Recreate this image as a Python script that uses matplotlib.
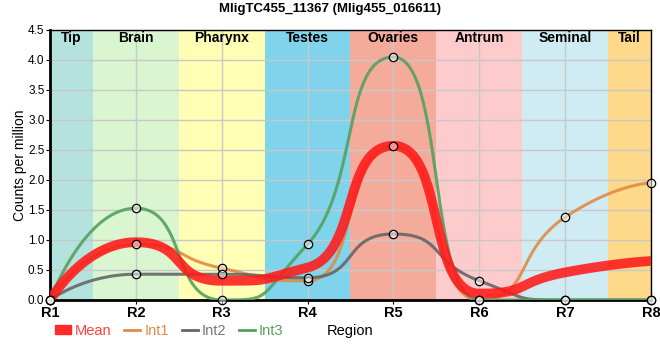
import numpy as np
import matplotlib
matplotlib.use('Agg')
import matplotlib.pyplot as plt
from matplotlib.patches import Patch
from matplotlib.lines import Line2D

plt.rcParams['font.family'] = ['Liberation Sans', 'DejaVu Sans']

# data
regions = ['R1', 'R2', 'R3', 'R4', 'R5', 'R6', 'R7', 'R8']
tissues = ['Tip', 'Brain', 'Pharynx', 'Testes', 'Ovaries', 'Antrum', 'Seminal', 'Tail']
tissue_colors = ['#b4e3dd', '#d9f6d0', '#fefeb4', '#7fd3ea', '#f5ab9c', '#fdcbcc', '#cfebf4', '#fed98a']
int1 = [0.0, 0.93, 0.53, 0.32, 2.56, 0.0, 1.38, 1.95]
int2 = [0.0, 0.43, 0.43, 0.37, 1.10, 0.32, 0.0, 0.0]
int3 = [0.0, 1.53, 0.0, 0.93, 4.05, 0.0, 0.0, 0.0]
mean = list(np.mean([int1, int2, int3], axis=0))

SMOOTH = 0.6


# control points for a smooth curve without false extrema
def controls(p0, p1, p2, a=SMOOTH):
    if p2 is None:
        return p1[0], p1[1], None, None
    l1x = (1 - a) * p1[0] + a * p0[0]
    l1y = (1 - a) * p1[1] + a * p0[1]
    r1x = (1 - a) * p1[0] + a * p2[0]
    r1y = (1 - a) * p1[1] + a * p2[1]
    if l1x != r1x:
        d = p1[1] - r1y - (p1[0] - r1x) * (l1y - r1y) / (l1x - r1x)
        l1y += d
        r1y += d
    if l1y > p0[1] and l1y > p1[1]:
        l1y = max(p0[1], p1[1]); r1y = 2 * p1[1] - l1y
    elif l1y < p0[1] and l1y < p1[1]:
        l1y = min(p0[1], p1[1]); r1y = 2 * p1[1] - l1y
    if r1y > p1[1] and r1y > p2[1]:
        r1y = max(p1[1], p2[1]); l1y = 2 * p1[1] - r1y
    elif r1y < p1[1] and r1y < p2[1]:
        r1y = min(p1[1], p2[1]); l1y = 2 * p1[1] - r1y
    return l1x, l1y, r1x, r1y


def smooth(x, y, n=50):
    pts = list(zip(np.asarray(x, float), np.asarray(y, float)))
    rx, ry = pts[0]
    xs, ys = [], []
    t = np.linspace(0, 1, n)
    for i in range(1, len(pts)):
        p0, p1 = pts[i - 1], pts[i]
        p2 = pts[i + 1] if i + 1 < len(pts) else None
        lx, ly, nrx, nry = controls(p0, p1, p2)
        bx = (1 - t)**3 * p0[0] + 3 * (1 - t)**2 * t * rx + 3 * (1 - t) * t**2 * lx + t**3 * p1[0]
        by = (1 - t)**3 * p0[1] + 3 * (1 - t)**2 * t * ry + 3 * (1 - t) * t**2 * ly + t**3 * p1[1]
        xs.append(bx)
        ys.append(by)
        rx, ry = nrx, nry
    return np.concatenate(xs), np.concatenate(ys)


fig = plt.figure(figsize=(6.6, 3.6), dpi=100)
ax = fig.add_axes([50 / 660, 60 / 360, 601 / 660, 270 / 360])
xpos = np.arange(len(regions))
xmax = len(regions) - 1

for i, (name, col) in enumerate(zip(tissues, tissue_colors)):
    lo, hi = max(i - 0.5, 0), min(i + 0.5, xmax)
    ax.axvspan(lo, hi, color=col, zorder=0, lw=0)
    ax.text((lo + hi) / 2, 4.36, name, ha='center', va='center', fontsize=10, fontweight='bold', zorder=5)

ax.grid(True, color='#c8c8c8', lw=1, zorder=1)
ax.set_axisbelow(True)

series = [('Int1', int1, '#e08c48'), ('Int2', int2, '#666666'), ('Int3', int3, '#55a060')]
for name, vals, col in series:
    cx, cy = smooth(xpos, vals)
    ax.plot(cx, cy, color=col, lw=2.2, alpha=0.9, zorder=3)

mx, my = smooth(xpos, mean)
ax.plot(mx, my, color='#ff1a1a', lw=7, alpha=0.88, zorder=4)

for name, vals, col in series:
    ax.plot(xpos, vals, 'o', ms=6, mfc=(1, 1, 1, 0.5), mec='black', mew=0.9, zorder=6, clip_on=False)

ax.set_xlim(0, xmax)
ax.set_ylim(0, 4.5)
ax.set_xticks(xpos)
ax.set_xticklabels(regions, fontsize=10.5, fontweight='bold')
ax.set_yticks(np.arange(0, 4.51, 0.5))
ax.set_yticklabels(['%.1f' % v for v in np.arange(0, 4.51, 0.5)], fontsize=8.5)
ax.tick_params(axis='both', length=3, pad=1)
for sp in ['top', 'right']:
    ax.spines[sp].set_linewidth(1)
for sp in ['left', 'bottom']:
    ax.spines[sp].set_linewidth(2)

ax.set_ylabel('Counts per million', fontsize=10, labelpad=1)
ax.set_xlabel('Region', fontsize=10.5, labelpad=3)
fig.text(0.5, 1 - 9 / 360, 'MligTC455_11367 (Mlig455_016611)', ha='center', va='center',
         fontsize=9.5, fontweight='bold')

handles = [Patch(color='#ff2a2a'),
           Line2D([], [], color='#e08c48', lw=2),
           Line2D([], [], color='#666666', lw=2),
           Line2D([], [], color='#55a060', lw=2)]
labels = ['Mean', 'Int1', 'Int2', 'Int3']
leg = fig.legend(handles, labels, loc='center left', bbox_to_anchor=(55 / 660, 1 - 331 / 360),
                 ncol=4, frameon=False, fontsize=10.5, handlelength=1.1, handletextpad=0.25,
                 columnspacing=0.9, handleheight=0.55, borderpad=0, borderaxespad=0)
for txt, c in zip(leg.get_texts(), ['#ff4040', '#e08c48', '#777777', '#55a060']):
    txt.set_color(c)

fig.savefig('out.png', dpi=100)
